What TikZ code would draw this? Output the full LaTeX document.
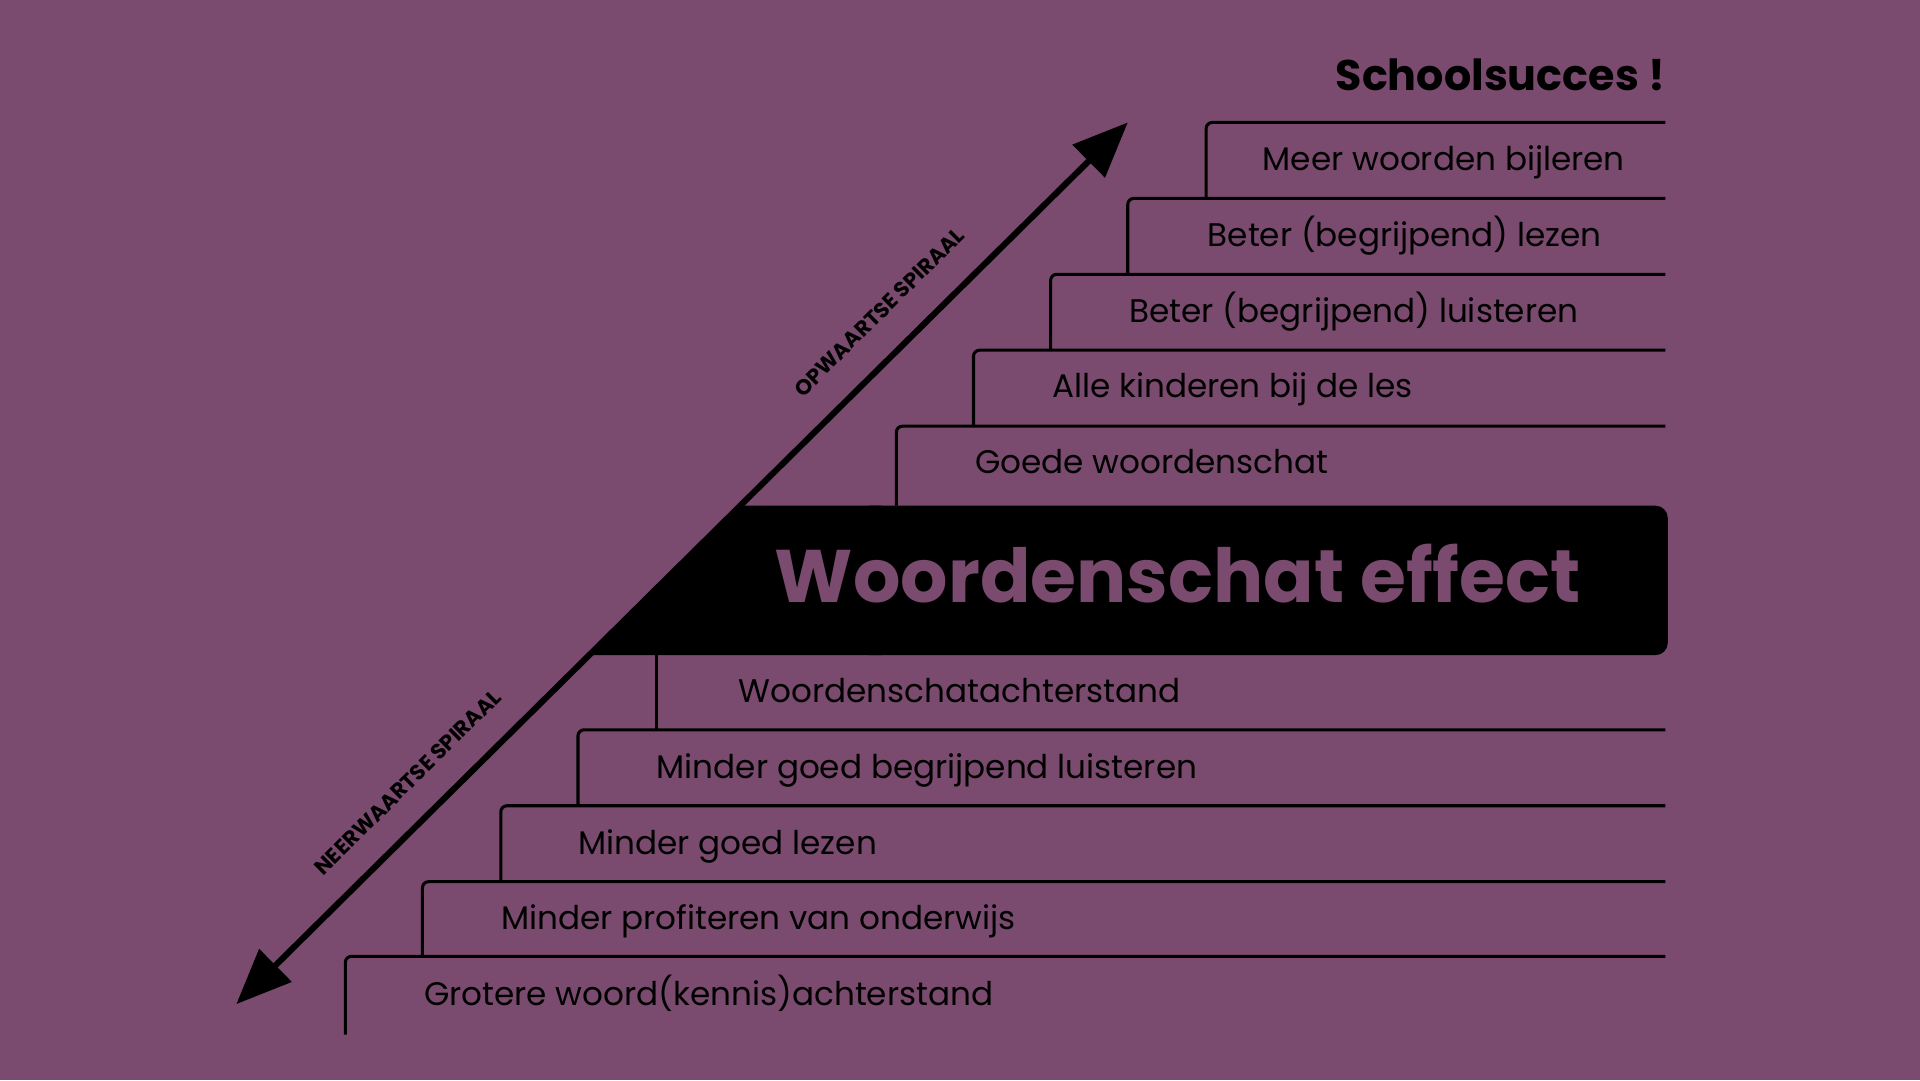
\documentclass[tikz,border=0pt]{standalone}
\usepackage{fontspec}
\setmainfont{Poppins}
\usetikzlibrary{arrows.meta}
\definecolor{bgpurple}{RGB}{122,75,110}
\tikzset{
  stepline/.style={line width=1.5pt, rounded corners=3pt},
  steptext/.style={anchor=base west, inner sep=0pt, font=\fontsize{16}{19}\selectfont},
  spirallabel/.style={inner sep=0pt, font=\bfseries\fontsize{10.5}{12}\selectfont, rotate=44.7}
}
\begin{document}
\begin{tikzpicture}[x=0.6pt,y=-0.6pt]
\useasboundingbox (0,0) rectangle (1568,882);
\fill[bgpurple] (0,0) rectangle (1568,882);

% black banner
\fill[black, rounded corners=6pt] (700,413) rectangle (1362,535);
\fill[black] (481,535) -- (604,413) -- (720,413) -- (720,535) -- cycle;
\node[inner sep=0pt, anchor=base, text=bgpurple, font=\bfseries\fontsize{36.5}{42}\selectfont] (effect) at (962,492) {Woordenschat effect};

% title
\node[inner sep=0pt, anchor=base east, font=\bfseries\fontsize{21}{25}\selectfont] (title) at (1360,74) {Schoolsucces !};

% upper steps
\draw[stepline] (985,162) -- (985,100) -- (1360,100);
\draw[stepline] (921,224) -- (921,162) -- (1360,162);
\draw[stepline] (858,286) -- (858,224) -- (1360,224);
\draw[stepline] (795,348) -- (795,286) -- (1360,286);
\draw[stepline] (732,413) -- (732,348) -- (1360,348);

\node[steptext] (u5) at (1031,139) {Meer woorden bijleren};
\node[steptext] (u4) at (986,201) {Beter (begrijpend) lezen};
\node[steptext] (u3) at (922,263) {Beter (begrijpend) luisteren};
\node[steptext] (u2) at (859,325) {Alle kinderen bij de les};
\node[steptext] (u1) at (796,387) {Goede woordenschat};

% lower steps
\draw[stepline] (536,535) -- (536,596);
\draw[stepline] (472,658) -- (472,596) -- (1360,596);
\draw[stepline] (409,720) -- (409,658) -- (1360,658);
\draw[stepline] (345,781) -- (345,720) -- (1360,720);
\draw[stepline] (282,845) -- (282,781) -- (1360,781);

\node[steptext] (d1) at (603,574) {Woordenschatachterstand};
\node[steptext] (d2) at (536,636) {Minder goed begrijpend luisteren};
\node[steptext] (d3) at (472,698) {Minder goed lezen};
\node[steptext] (d4) at (409,759) {Minder profiteren van onderwijs};
\node[steptext] (d5) at (346,821) {Grotere woord(kennis)achterstand};

% spiral arrow
\coordinate (lo) at (193,820);
\coordinate (hi) at (921,100);
\draw[line width=3pt, {Triangle[length=27pt,width=22pt]}-{Triangle[length=27pt,width=22pt]}] (lo) -- (hi);

\node[spirallabel] (up) at (718,255) {OPWAARTSE SPIRAAL};
\node[spirallabel] (down) at (333,639) {NEERWAARTSE SPIRAAL};
\end{tikzpicture}
\end{document}
